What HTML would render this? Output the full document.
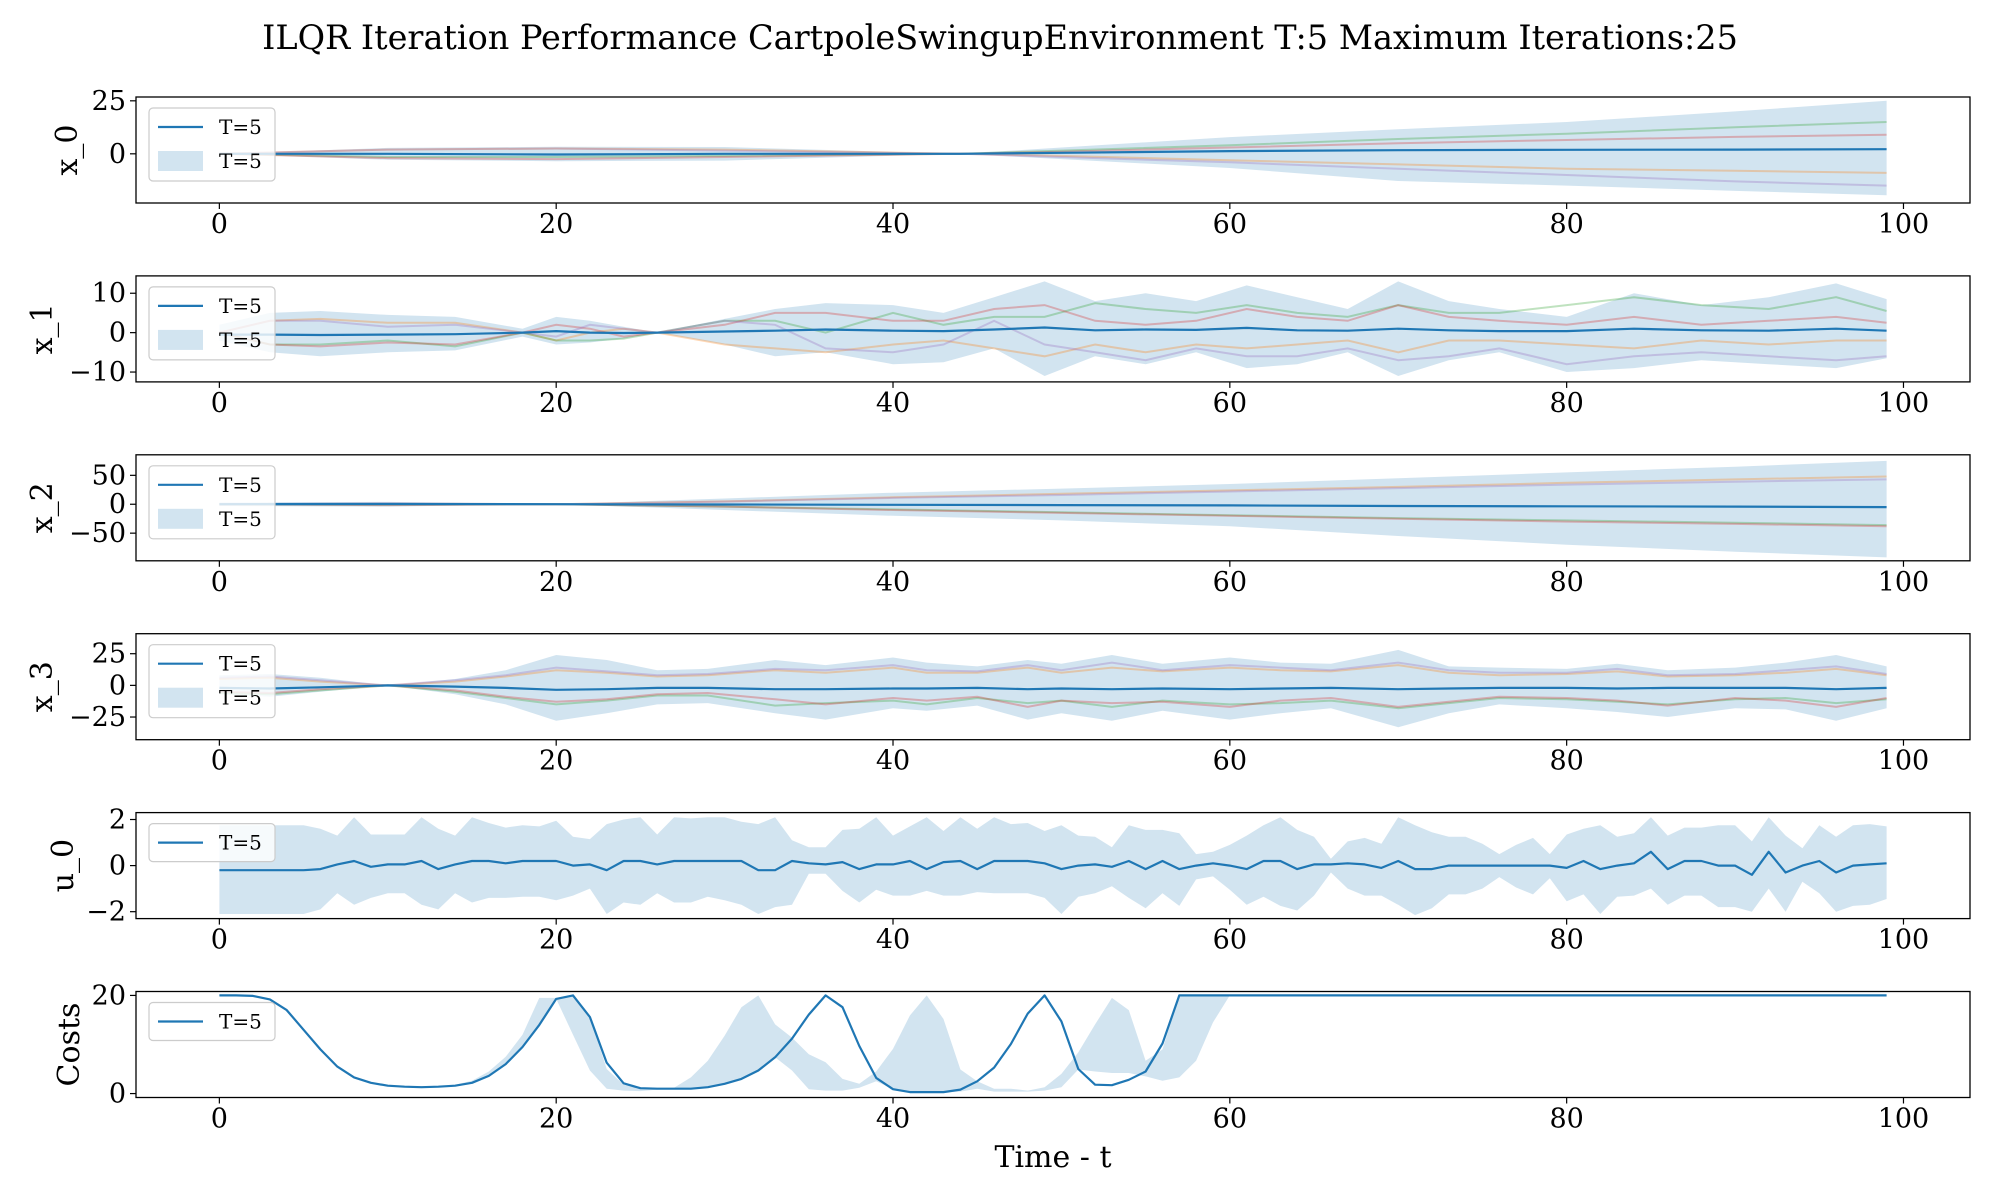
<!DOCTYPE html>
<html><head><meta charset="utf-8"><style>
html,body{margin:0;padding:0;background:#fff;}
svg{display:block;font-family:"DejaVu Serif","Liberation Serif",serif;}
</style></head><body>
<svg id="chart" width="2000" height="1200" viewBox="0 0 2000 1200" xmlns="http://www.w3.org/2000/svg">
<text x="1000" y="49" text-anchor="middle" font-size="33.5">ILQR Iteration Performance CartpoleSwingupEnvironment T:5 Maximum Iterations:25</text>
<text x="1053" y="1167" text-anchor="middle" font-size="30">Time - t</text>
</svg>
<script>
// ---------- data ----------
const xTicks = [0,20,40,60,80,100];

// x_0
const x0T = [0,10,20,30,44,50,60,70,80,90,99];
const x0Mean = [0,0,-0.3,0,0,0.5,1.3,1.7,1.9,2,2.2];
const x0Upper = [0,2.8,3.3,3.2,0,3,7.9,11.6,15,20,25];
const x0Lower = [0,-2.8,-3.5,-3.2,0,-2.5,-6.7,-12.8,-15,-17.5,-19.5];
const x0Orange = [0,2,2.5,2,0,-1,-3,-5,-7,-8,-9];
const x0Green = [0,-1.5,-1.5,-1,0,1.5,4,7,9.5,12.5,15];
const x0Red = [0,-2,-2.5,-1.5,0,1,3,5,6.5,8,9];
const x0Purple = [0,2,2.5,1.5,0,-1.5,-4,-7,-10,-13,-15];
const x0Ticks = [0,25];

// x_1
const x1T = [0,3,6,10,14,18,20,22,24,26,30,33,36,40,43,46,49,52,55,58,61,64,67,70,73,76,80,84,88,92,96,99];
const x1Mean = [-0.5,-0.5,-0.6,-0.5,-0.4,0,0.4,0,-0.1,0,0.3,0.5,0.8,0.5,0.4,0.8,1.3,0.6,0.8,0.7,1.2,0.6,0.5,1.0,0.6,0.4,0.4,1.0,0.6,0.5,1.0,0.5];
const x1Upper = [2,5,5.5,4.5,4,1,4,3,1.5,0,3.5,6,7.5,7,5,9,13,8,10,8,12,9,6,13,8,6,4,10,7,9,12.5,8.5];
const x1Lower = [-2,-5,-6,-5,-4.5,-1,-3,-2.5,-1.5,0,-3,-6,-5,-8,-7.5,-4,-11,-6,-8,-5,-9,-8,-5,-11,-7,-5,-10,-9,-7,-8,-9,-6.5];
const x1Orange = [0,3,3.5,2.5,2.5,0,-2,0,1,0,-3,-4,-5,-3,-2,-4,-6,-3,-5,-3,-4,-3,-2,-5,-2,-2,-3,-4,-2,-3,-2,-2];
const x1Green = [0,-3,-3,-2,-3.5,0,-2,-2,-1.5,0,3,3,0,5,2,4,4,7.5,6,5,7,5,4,7,5,5,7,9,7,6,9,5.5];
const x1Red = [0,-3,-3.5,-2.5,-3,0,2,1,-1,0,2,5,5,3,3,6,7,3,2,3,6,4,3,7,4,3,2,4,2,3,4,2.5];
const x1Purple = [0,3,3,1.5,2,0,-1,2,1,0,3,2,-4,-5,-3,3,-3,-5,-7,-4,-6,-6,-4,-7,-6,-4,-8,-6,-5,-6,-7,-6];
const x1Ticks = [-10,0,10];

// x_2
const x2T = [0,10,20,30,40,50,60,70,80,90,99];
const x2Mean = [0,0.5,0,-0.5,-1,-1.5,-2,-3,-3.5,-4,-5];
const x2Upper = [3,4,0,10,20,27,35,45,55,65,75];
const x2Lower = [-3,-4,0,-10,-20,-28,-38,-55,-70,-82,-92];
const x2Orange = [0,1,0,5,12,18,24,30,37,43,48];
const x2Green = [0,-1,0,-4,-9,-14,-19,-24,-28,-32,-36];
const x2Red = [0,-1.5,0,-4,-10,-15,-20,-25,-30,-34,-38];
const x2Purple = [0,1.5,0,4.5,11,16,22,28,34,39,43];
const x2Ticks = [-50,0,50];

// x_3
const x3T = [0,3,6,10,14,17,20,23,26,29,33,36,40,42,45,48,50,53,56,60,63,66,70,73,76,80,83,86,90,93,96,99];
const x3Mean = [-2,-2.5,-1.5,0,-1,-2,-3.5,-3,-2,-2,-3,-3,-2.5,-2.5,-2,-3,-2.5,-3,-2.5,-3,-2.5,-2,-3,-2.5,-2,-2,-2.5,-2,-2,-2,-3,-2];
const x3Upper = [8,9,6,0,5,12,24,20,12,13,20,16,22,18,15,20,17,24,17,22,18,17,28,15,14,13,17,12,14,18,24,15];
const x3Lower = [-7,-9,-5,0,-7,-15,-28,-22,-15,-14,-22,-27,-18,-20,-16,-27,-22,-28,-20,-27,-22,-18,-33,-22,-15,-18,-21,-25,-18,-19,-28,-18];
const x3Orange = [5,6,3,0,3,7,12,10,7,8,12,10,14,10,10,14,10,14,11,14,12,11,16,10,8,9,11,7,8,10,13,8];
const x3Green = [-6,-7,-4,0,-5,-10,-15,-12,-8,-8,-16,-14,-12,-15,-10,-14,-12,-17,-12,-15,-14,-12,-18,-14,-10,-11,-13,-15,-11,-10,-14,-11];
const x3Red = [-5,-6,-3,0,-4,-9,-13,-11,-7,-6,-11,-15,-10,-12,-9,-17,-12,-14,-13,-17,-12,-10,-17,-13,-9,-10,-12,-16,-10,-12,-17,-10];
const x3Purple = [6,7,4,0,4,8,14,11,8,9,13,12,16,12,11,16,12,18,12,16,14,12,18,12,10,10,13,8,9,12,15,9];
const x3Ticks = [-25,0,25];

// u_0 (every timestep 0..99)
const u0Mean = [-0.2,-0.2,-0.2,-0.2,-0.2,-0.2,-0.15,0.05,0.2,-0.05,0.05,0.05,0.2,-0.15,0.05,0.2,0.2,0.1,0.2,0.2,
 0.2,0,0.05,-0.2,0.2,0.2,0.05,0.2,0.2,0.2,0.2,0.2,-0.2,-0.2,0.2,0.1,0.05,0.15,-0.15,0.05,
 0.05,0.2,-0.15,0.15,0.2,-0.15,0.2,0.2,0.2,0.1,-0.15,0,0.05,-0.05,0.2,-0.15,0.2,-0.15,0,0.1,
 0,-0.15,0.2,0.2,-0.15,0.05,0.05,0.1,0.05,-0.1,0.2,-0.15,-0.15,0,0,0,0,0,0,0,
 -0.1,0.2,-0.15,0,0.1,0.6,-0.15,0.2,0.2,0,0,-0.4,0.6,-0.3,0,0.2,-0.3,0,0.05,0.1];
const u0Upper = [1.75,1.75,1.75,1.75,1.75,1.75,1.6,1.3,2.1,1.35,1.35,1.35,2.1,1.6,1.3,2.1,1.85,1.65,1.75,1.7,
 1.95,1.25,1.15,1.8,2.0,2.1,1.35,2.1,2.05,2.1,2.1,1.9,1.8,2.1,1.1,0.8,0.8,1.55,1.6,2.1,
 1.3,1.7,2.1,1.5,2.1,1.6,2.1,1.8,1.85,1.5,1.75,1.3,1.25,0.8,1.75,1.55,1.55,1.4,0.5,0.6,
 0.9,1.3,1.75,2.1,1.55,1.25,0.3,1.05,1.2,0.95,2.1,1.75,1.45,1.25,1.25,0.95,0.5,0.9,1.2,0.5,
 1.35,1.6,1.75,1.25,1.4,2.1,1.3,1.65,1.65,1.75,1.75,1.05,2.1,1.3,0.75,1.75,1.25,1.75,1.8,1.7];
const u0Lower = [-2.1,-2.1,-2.1,-2.1,-2.1,-2.1,-1.9,-1.2,-1.7,-1.4,-1.2,-1.2,-1.7,-1.9,-1.2,-1.6,-1.4,-1.4,-1.35,-1.35,
 -1.5,-1.3,-1.0,-2.1,-1.6,-1.7,-1.2,-1.6,-1.6,-1.35,-1.5,-1.7,-2.1,-1.8,-1.7,-0.35,-0.35,-1.1,-1.6,-1.05,
 -1.3,-1.3,-1.1,-1.3,-1.3,-1.15,-1.2,-1.2,-1.2,-1.4,-2.1,-1.35,-1.2,-0.9,-1.4,-1.85,-1.2,-1.75,-0.6,-0.47,
 -1.05,-1.7,-1.35,-1.75,-1.95,-1.3,-0.3,-1.0,-1.3,-1.3,-1.7,-2.15,-1.85,-1.25,-1.25,-1.0,-0.5,-0.95,-1.25,-0.55,
 -1.55,-1.25,-2.1,-1.35,-1.3,-1.0,-1.7,-1.3,-1.3,-1.8,-1.8,-2.0,-1.0,-2.0,-0.7,-1.2,-2.0,-1.75,-1.7,-1.45];
const u0Ticks = [-2,0,2];

// Costs (every timestep 0..99)
const costMean = [20,20,19.9,19.2,17,13,9,5.5,3.3,2.2,1.6,1.4,1.3,1.4,1.6,2.2,3.6,6,9.5,14,
 19.3,20,15.6,6.3,2.1,1.1,1.0,1.0,1.0,1.3,2.0,3.0,4.7,7.4,11.2,16.1,20,17.6,9.7,3.2,
 0.9,0.3,0.3,0.3,0.8,2.5,5.3,10.1,16.3,20,14.7,5.0,1.8,1.7,2.8,4.5,10.2,20,20,20,
 20,20,20,20,20,20,20,20,20,20,20,20,20,20,20,20,20,20,20,20,
 20,20,20,20,20,20,20,20,20,20,20,20,20,20,20,20,20,20,20,20];
const costUpper = [20,20,19.9,19.2,17,13,9,5.5,3.3,2.2,1.6,1.4,1.4,1.5,1.8,2.6,4.5,7.5,12,19.5,
 19.5,19.8,15.6,5,1.8,1,1,1.2,3.3,6.7,11.8,17.6,20,14.1,11.4,8,6.4,3,2.0,4.5,
 9.1,15.9,20,15.2,4.9,2.5,1,1,0.6,1.3,4,8.4,14.1,19.5,17,6.7,9,20,20,20,
 20,20,20,20,20,20,20,20,20,20,20,20,20,20,20,20,20,20,20,20,
 20,20,20,20,20,20,20,20,20,20,20,20,20,20,20,20,20,20,20,20];
const costLower = [20,20,19.9,19.2,17,13,9,5.5,3.3,2.2,1.6,1.4,1.3,1.4,1.6,2.2,3.6,6,9.5,14,
 19.3,12,4.7,1.0,0.6,0.5,0.8,0.9,1.0,1.3,2.0,3.0,4.7,7.4,4.7,0.9,0.6,0.6,1.2,2.5,
 0.9,0.5,0.4,0.3,0.4,1.0,0.4,0.4,0.4,0.6,1.3,4.9,4.5,4.2,4.2,3.5,2.6,3.3,6.7,14.5,
 20,20,20,20,20,20,20,20,20,20,20,20,20,20,20,20,20,20,20,20,
 20,20,20,20,20,20,20,20,20,20,20,20,20,20,20,20,20,20,20,20];
const costTicks = [0,20];

// ---------- layout ----------
const NS = 'http://www.w3.org/2000/svg';
const svg = document.getElementById('chart');
const AX_L = 136, AX_R = 1970, AX_H = 106;
const XMIN = -4.95, XMAX = 103.95;
const BLUE = '#1f77b4';
function xs(t){ return AX_L + (t - XMIN) / (XMAX - XMIN) * (AX_R - AX_L); }
function mk(tag, attrs, parent){
  const e = document.createElementNS(NS, tag);
  for (const k in attrs) e.setAttribute(k, attrs[k]);
  (parent || svg).appendChild(e);
  return e;
}
function steps(n){ const a=[]; for(let i=0;i<n;i++) a.push(i); return a; }

function panel(cfg){
  const top = cfg.top, bot = top + AX_H;
  const ys = v => bot - (v - cfg.ymin) / (cfg.ymax - cfg.ymin) * AX_H;
  const g = mk('g', {});
  
  
  const clipId = 'clip-' + cfg.name;
  const cp = mk('clipPath', {id: clipId}, g);
  mk('rect', {x: AX_L, y: top, width: AX_R - AX_L, height: AX_H}, cp);
  const plot = mk('g', {'clip-path': 'url(#' + clipId + ')'}, g);
  if (cfg.upper) {
    let d = '';
    cfg.t.forEach((t,i) => { d += (i ? 'L' : 'M') + xs(t).toFixed(1) + ',' + ys(cfg.upper[i]).toFixed(1); });
    for (let i = cfg.t.length - 1; i >= 0; i--) d += 'L' + xs(cfg.t[i]).toFixed(1) + ',' + ys(cfg.lower[i]).toFixed(1);
    const band = mk('path', {d: d + 'Z', fill: BLUE, 'fill-opacity': 0.2, stroke: 'none'}, plot);
    
    
  }
  (cfg.samples || []).forEach(s => {
    const pts = cfg.t.map((t,i) => xs(t).toFixed(1) + ',' + ys(s.v[i]).toFixed(1)).join(' ');
    const pl = mk('polyline', {points: pts, fill: 'none', stroke: s.c, 'stroke-width': 2, 'stroke-opacity': 0.3}, plot);
    
    
  });
  const mpts = cfg.t.map((t,i) => xs(t).toFixed(1) + ',' + ys(cfg.mean[i]).toFixed(1)).join(' ');
  const ml = mk('polyline', {points: mpts, fill: 'none', stroke: BLUE, 'stroke-width': 2.2, 'stroke-linejoin': 'round'}, plot);
  
  
  mk('rect', {x: AX_L, y: top, width: AX_R - AX_L, height: AX_H, fill: 'none', stroke: '#000', 'stroke-width': 1.3}, g);
  xTicks.forEach(t => {
    const x = xs(t);
    mk('line', {x1: x, x2: x, y1: bot, y2: bot + 6, stroke: '#000', 'stroke-width': 1.2}, g);
    const tx = mk('text', {x: x, y: bot + 30, 'text-anchor': 'middle', 'font-size': 27}, g);
    tx.textContent = t;
    
    
  });
  cfg.ticks.forEach(v => {
    const y = ys(v);
    mk('line', {x1: AX_L - 6, x2: AX_L, y1: y, y2: y, stroke: '#000', 'stroke-width': 1.2}, g);
    const tx = mk('text', {x: AX_L - 10, y: y + 9, 'text-anchor': 'end', 'font-size': 27}, g);
    tx.textContent = v < 0 ? '\u2212' + Math.abs(v) : String(v);
    
    
  });
  const yl = mk('text', {x: 0, y: 0, 'text-anchor': 'middle', 'font-size': 30, transform: 'translate(' + cfg.labelX + ',' + (top + AX_H/2) + ') rotate(-90)'}, g);
  yl.textContent = cfg.label;
  
  
  const two = !!cfg.upper && cfg.legend2;
  const lg = mk('g', {}, g);
  
  
  const lx = AX_L + 13, ly = top + 11, lh = two ? 73 : 38;
  mk('rect', {x: lx, y: ly, width: 126, height: lh, rx: 4, fill: '#fff', 'fill-opacity': 0.8, stroke: '#ccc', 'stroke-width': 1.2}, lg);
  mk('line', {x1: lx + 9, x2: lx + 54, y1: ly + 19, y2: ly + 19, stroke: BLUE, 'stroke-width': 2.2}, lg);
  const t1 = mk('text', {x: lx + 70, y: ly + 26, 'font-size': 20}, lg);
  t1.textContent = 'T=5';
  if (two) {
    mk('rect', {x: lx + 9, y: ly + 43, width: 45, height: 20, fill: BLUE, 'fill-opacity': 0.2}, lg);
    const t2 = mk('text', {x: lx + 70, y: ly + 60, 'font-size': 20}, lg);
    t2.textContent = 'T=5';
  }
}

const TOP0 = 97, GAP = 178.9;
panel({name:'x0', label:'x_0', top:TOP0, ymin:-23.2, ymax:26.8, ticks:x0Ticks, t:x0T, mean:x0Mean, upper:x0Upper, lower:x0Lower, legend2:true, labelX:77,
  samples:[{c:'#ff7f0e',v:x0Orange},{c:'#2ca02c',v:x0Green},{c:'#d62728',v:x0Red},{c:'#9467bd',v:x0Purple}]});
panel({name:'x1', label:'x_1', top:TOP0+GAP, ymin:-12.5, ymax:14.4, ticks:x1Ticks, t:x1T, mean:x1Mean, upper:x1Upper, lower:x1Lower, legend2:true, labelX:52,
  samples:[{c:'#ff7f0e',v:x1Orange},{c:'#2ca02c',v:x1Green},{c:'#d62728',v:x1Red},{c:'#9467bd',v:x1Purple}]});
panel({name:'x2', label:'x_2', top:TOP0+2*GAP, ymin:-97.8, ymax:85.5, ticks:x2Ticks, t:x2T, mean:x2Mean, upper:x2Upper, lower:x2Lower, legend2:true, labelX:52,
  samples:[{c:'#ff7f0e',v:x2Orange},{c:'#2ca02c',v:x2Green},{c:'#d62728',v:x2Red},{c:'#9467bd',v:x2Purple}]});
panel({name:'x3', label:'x_3', top:TOP0+3*GAP, ymin:-42.9, ymax:40.8, ticks:x3Ticks, t:x3T, mean:x3Mean, upper:x3Upper, lower:x3Lower, legend2:true, labelX:52,
  samples:[{c:'#ff7f0e',v:x3Orange},{c:'#2ca02c',v:x3Green},{c:'#d62728',v:x3Red},{c:'#9467bd',v:x3Purple}]});
panel({name:'u0', label:'u_0', top:TOP0+4*GAP, ymin:-2.3, ymax:2.3, ticks:u0Ticks, t:steps(100), mean:u0Mean, upper:u0Upper, lower:u0Lower, legend2:false, labelX:73});
panel({name:'costs', label:'Costs', top:TOP0+5*GAP, ymin:-0.8, ymax:20.8, ticks:costTicks, t:steps(100), mean:costMean, upper:costUpper, lower:costLower, legend2:false, labelX:79});
</script>
</body></html>
